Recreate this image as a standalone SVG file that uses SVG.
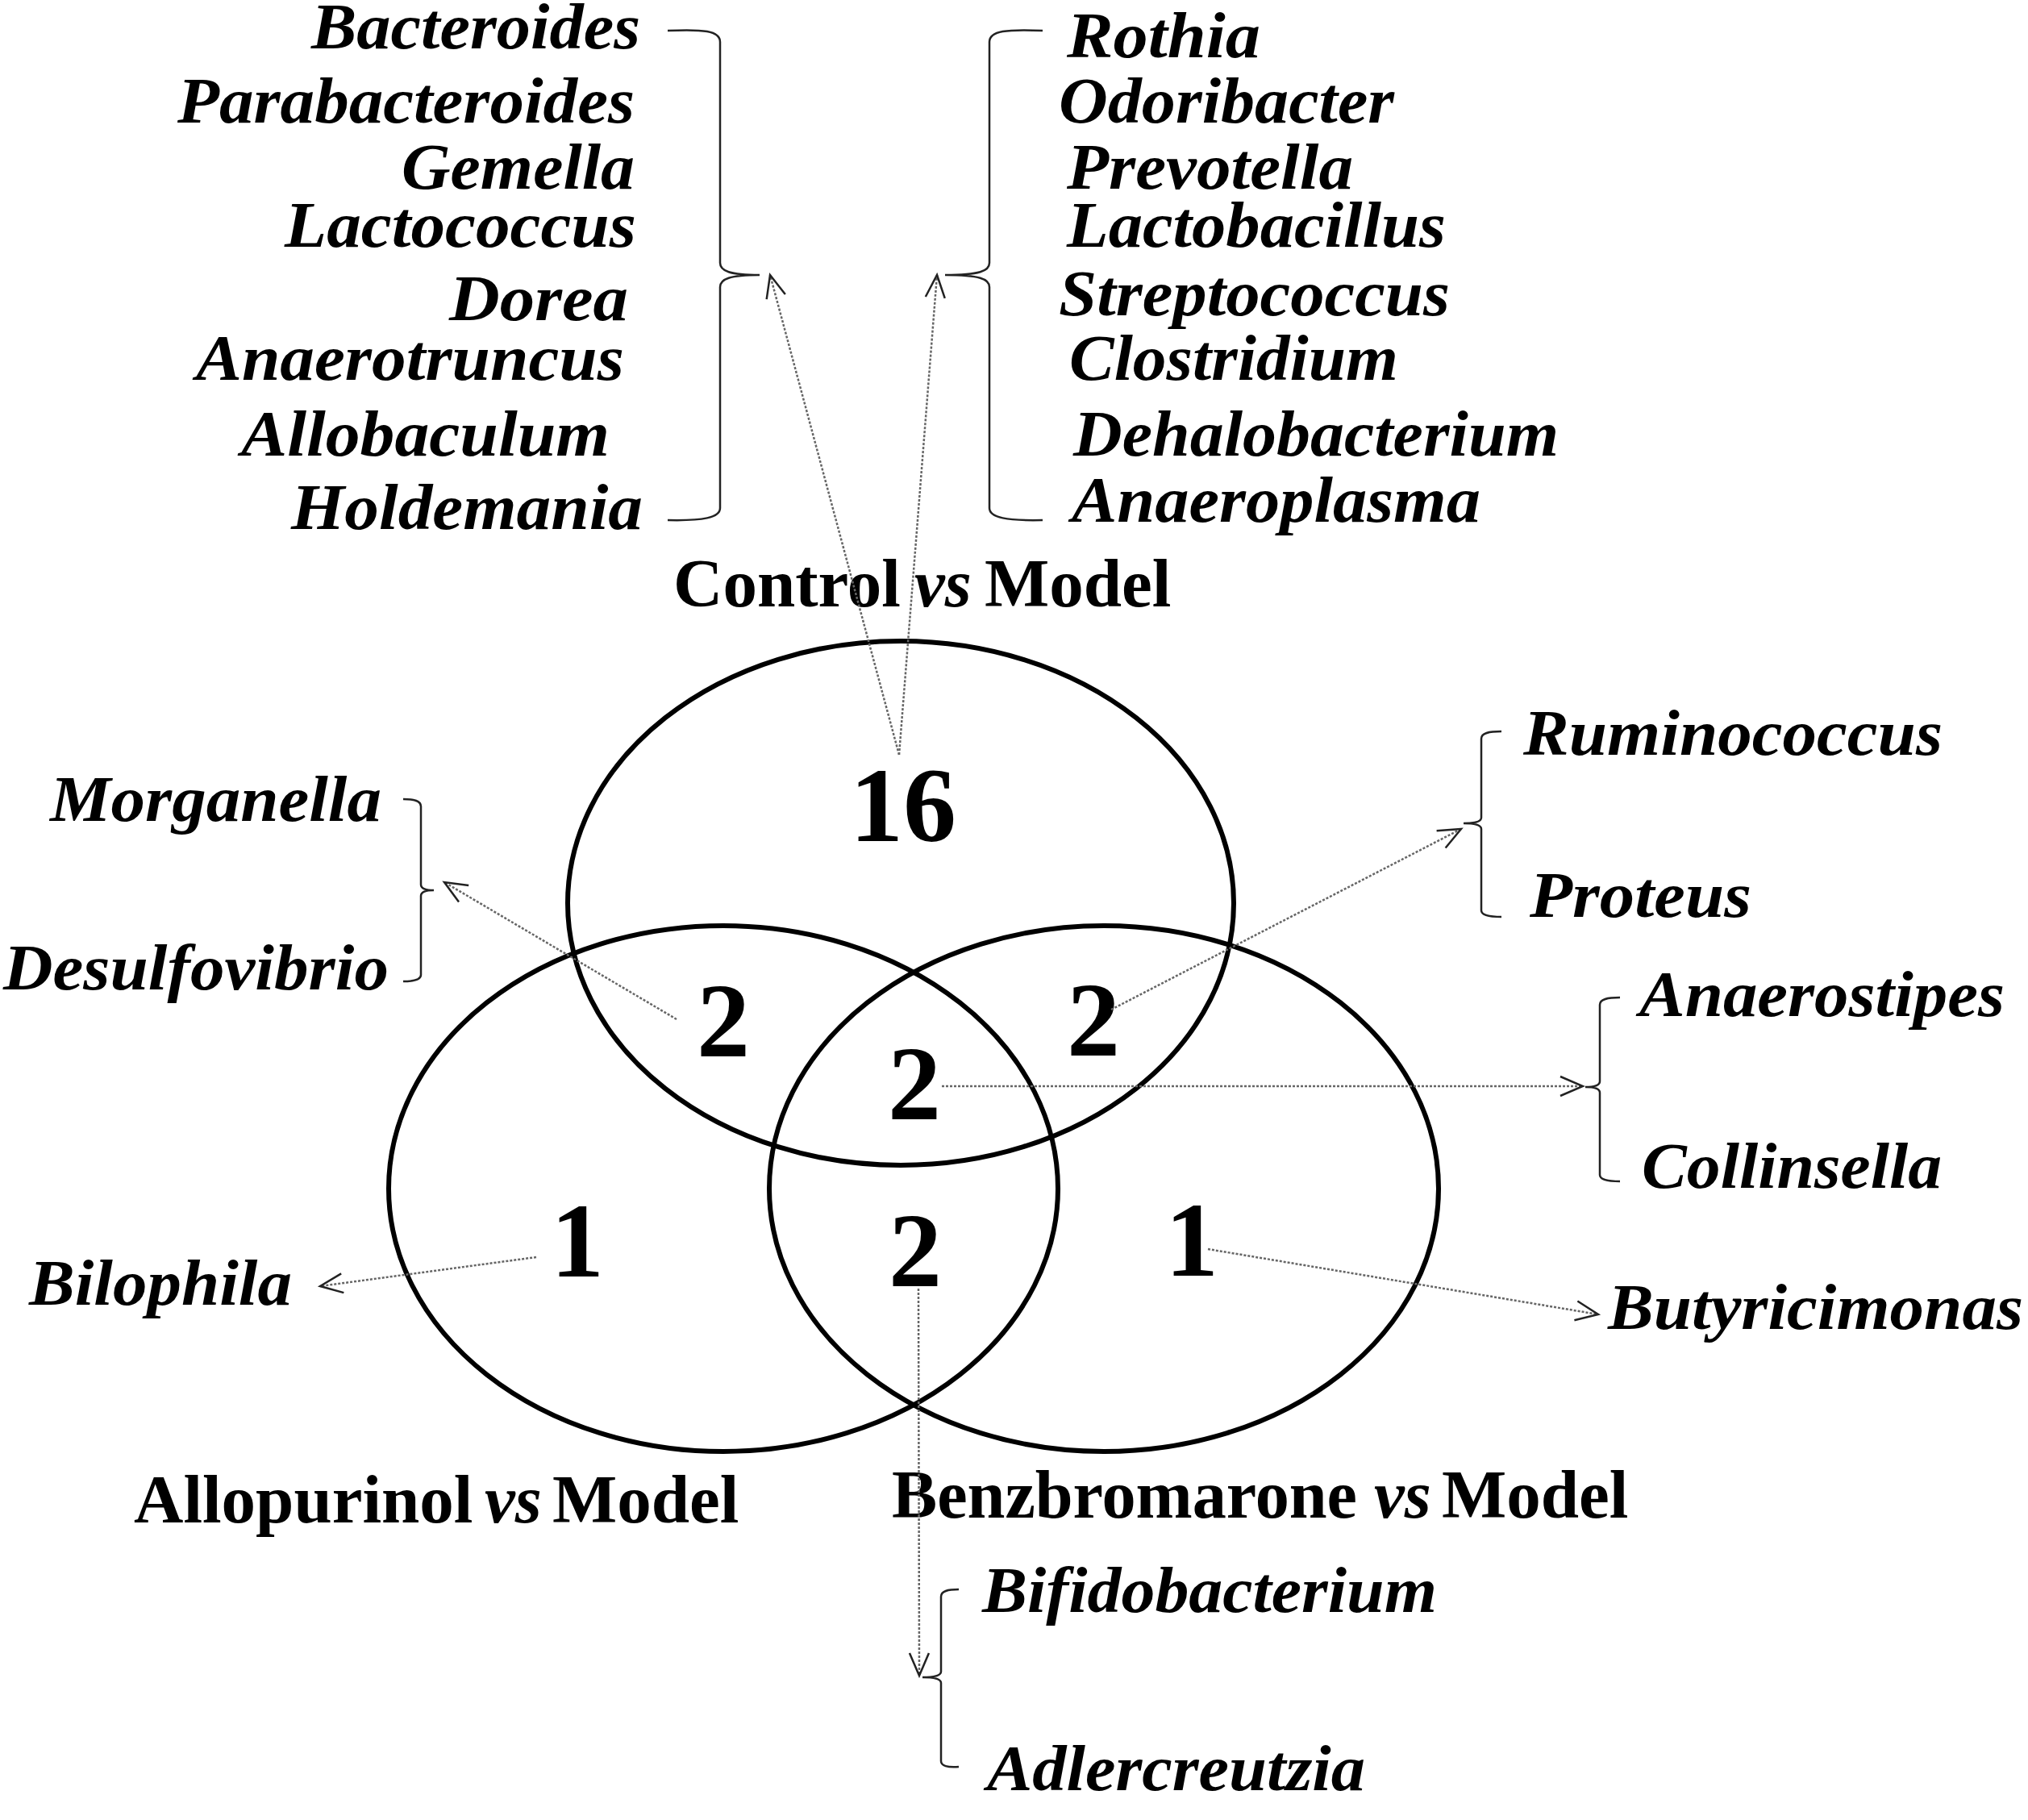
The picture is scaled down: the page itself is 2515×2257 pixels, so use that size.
<svg xmlns="http://www.w3.org/2000/svg" width="2515" height="2257" viewBox="0 0 2515 2257">
<style>
.g{font-family:"Liberation Serif","Times New Roman",serif;font-style:italic;font-weight:bold;font-size:80px;fill:#000}
.t{font-family:"Liberation Serif","Times New Roman",serif;font-weight:bold;font-size:85px;fill:#000}
.t .i{font-style:italic}
.n{font-family:"Liberation Serif","Times New Roman",serif;font-weight:bold;font-size:132px;fill:#000;text-anchor:middle}
.venn{fill:none;stroke:#000;stroke-width:6}
.br{fill:none;stroke:#222;stroke-width:2.5}
.ar{fill:none;stroke:#666;stroke-width:2.5;stroke-dasharray:3 2}
</style>
<defs>
<marker id="ah" markerUnits="userSpaceOnUse" markerWidth="34" markerHeight="30" refX="31" refY="15" orient="auto" viewBox="0 0 34 30">
<path d="M3,3 L31,15 L3,27" fill="none" stroke="#222" stroke-width="2.5"/>
</marker>
</defs>
<rect width="2515" height="2257" fill="#fff"/>

<g id="set-control">
<ellipse class="venn" cx="1117" cy="1120" rx="413" ry="325"/>
<text class="t" x="835" y="752">Control<tspan class="i" x="1134">vs</tspan><tspan x="1221">Model</tspan></text>
</g>
<g id="set-allopurinol">
<ellipse class="venn" cx="897" cy="1474" rx="415" ry="326"/>
<text class="t" x="166" y="1888">Allopurinol<tspan class="i" x="601">vs</tspan><tspan x="685">Model</tspan></text>
</g>
<g id="set-benzbromarone">
<ellipse class="venn" cx="1369" cy="1474" rx="415" ry="326"/>
<text class="t" x="1106" y="1882"><tspan textLength="577" lengthAdjust="spacingAndGlyphs">Benzbromarone</tspan><tspan class="i" x="1704">vs</tspan><tspan x="1788">Model</tspan></text>
</g>

<g id="counts">
<text class="n" x="1120" y="1043">16</text>
<text class="n" x="897" y="1310">2</text>
<text class="n" x="1356" y="1309">2</text>
<text class="n" x="1134" y="1388">2</text>
<text class="n" x="1135" y="1595">2</text>
<text class="n" x="716" y="1583">1</text>
<text class="n" x="1478" y="1582">1</text>
</g>

<g id="list-control-left">
<text class="g" x="386" y="60" textLength="408" lengthAdjust="spacingAndGlyphs">Bacteroides</text>
<text class="g" x="220" y="152" textLength="567" lengthAdjust="spacingAndGlyphs">Parabacteroides</text>
<text class="g" x="498" y="234" textLength="289" lengthAdjust="spacingAndGlyphs">Gemella</text>
<text class="g" x="353" y="306" textLength="436" lengthAdjust="spacingAndGlyphs">Lactococcus</text>
<text class="g" x="557" y="397" textLength="222" lengthAdjust="spacingAndGlyphs">Dorea</text>
<text class="g" x="243" y="471" textLength="531" lengthAdjust="spacingAndGlyphs">Anaerotruncus</text>
<text class="g" x="299" y="565" textLength="457" lengthAdjust="spacingAndGlyphs">Allobaculum</text>
<text class="g" x="361" y="656" textLength="436" lengthAdjust="spacingAndGlyphs">Holdemania</text>
<path class="br" d="M828,38 C872,36 893,38 893,52 L893,326 C893,336 905,341 942,341 C905,341 893,346 893,356 L893,630 C893,642 872,646 828,645"/>
</g>

<g id="list-control-right">
<text class="g" x="1323" y="71" textLength="240" lengthAdjust="spacingAndGlyphs">Rothia</text>
<text class="g" x="1313" y="152" textLength="416" lengthAdjust="spacingAndGlyphs">Odoribacter</text>
<text class="g" x="1323" y="234" textLength="355" lengthAdjust="spacingAndGlyphs">Prevotella</text>
<text class="g" x="1323" y="306" textLength="470" lengthAdjust="spacingAndGlyphs">Lactobacillus</text>
<text class="g" x="1313" y="391" textLength="485" lengthAdjust="spacingAndGlyphs">Streptococcus</text>
<text class="g" x="1326" y="471" textLength="408" lengthAdjust="spacingAndGlyphs">Clostridium</text>
<text class="g" x="1331" y="565" textLength="602" lengthAdjust="spacingAndGlyphs">Dehalobacterium</text>
<text class="g" x="1329" y="647" textLength="507" lengthAdjust="spacingAndGlyphs">Anaeroplasma</text>
<path class="br" d="M1293,38 C1249,36 1227,38 1227,52 L1227,326 C1227,336 1215,341 1172,341 C1215,341 1227,346 1227,356 L1227,630 C1227,642 1249,646 1293,645"/>
</g>

<g id="list-control-allopurinol">
<text class="g" x="62" y="1018" textLength="411" lengthAdjust="spacingAndGlyphs">Morganella</text>
<text class="g" x="4" y="1227" textLength="478" lengthAdjust="spacingAndGlyphs">Desulfovibrio</text>
<path class="br" d="M500,991 C514,991 522,993 522,1000 L522,1097 C522,1101 526,1104 538,1104 C526,1104 522,1107 522,1111 L522,1209 C522,1215 514,1217 500,1217"/>
</g>

<g id="list-control-benz">
<text class="g" x="1889" y="936" textLength="520" lengthAdjust="spacingAndGlyphs">Ruminococcus</text>
<text class="g" x="1897" y="1137" textLength="275" lengthAdjust="spacingAndGlyphs">Proteus</text>
<path class="br" d="M1862,907 C1846,907 1837,909 1837,916 L1837,1014 C1837,1018 1832,1021 1815,1021 C1832,1021 1837,1024 1837,1028 L1837,1129 C1837,1135 1846,1137 1862,1137"/>
</g>

<g id="list-all">
<text class="g" x="2033" y="1260" textLength="453" lengthAdjust="spacingAndGlyphs">Anaerostipes</text>
<text class="g" x="2036" y="1473" textLength="372" lengthAdjust="spacingAndGlyphs">Collinsella</text>
<path class="br" d="M2009,1237 C1993,1237 1984,1239 1984,1246 L1984,1341 C1984,1345 1980,1348 1966,1348 C1980,1348 1984,1351 1984,1355 L1984,1457 C1984,1463 1993,1465 2009,1465"/>
</g>

<g id="list-allopurinol-benz">
<text class="g" x="1218" y="1999" textLength="564" lengthAdjust="spacingAndGlyphs">Bifidobacterium</text>
<text class="g" x="1224" y="2220" textLength="469" lengthAdjust="spacingAndGlyphs">Adlercreutzia</text>
<path class="br" d="M1189,1971 C1175,1971 1167,1973 1167,1980 L1167,2073 C1167,2077 1162,2080 1144,2080 C1162,2080 1167,2083 1167,2087 L1167,2184 C1167,2190 1175,2192 1189,2191"/>
</g>

<g id="list-allopurinol">
<text class="g" x="36" y="1618" textLength="326" lengthAdjust="spacingAndGlyphs">Bilophila</text>
</g>

<g id="list-benz">
<text class="g" x="1994" y="1648" textLength="515" lengthAdjust="spacingAndGlyphs">Butyricimonas</text>
</g>

<g id="connectors">
<line class="ar" x1="1115" y1="936" x2="955" y2="341" marker-end="url(#ah)"/>
<line class="ar" x1="1115" y1="936" x2="1162" y2="341" marker-end="url(#ah)"/>
<line class="ar" x1="839" y1="1264" x2="551" y2="1094" marker-end="url(#ah)"/>
<line class="ar" x1="1378" y1="1252" x2="1812" y2="1028" marker-end="url(#ah)"/>
<line class="ar" x1="1168" y1="1347" x2="1963" y2="1347" marker-end="url(#ah)"/>
<line class="ar" x1="665" y1="1559" x2="397" y2="1595" marker-end="url(#ah)"/>
<line class="ar" x1="1498" y1="1549" x2="1982" y2="1630" marker-end="url(#ah)"/>
<line class="ar" x1="1139" y1="1598" x2="1140" y2="2078" marker-end="url(#ah)"/>
</g>
</svg>
